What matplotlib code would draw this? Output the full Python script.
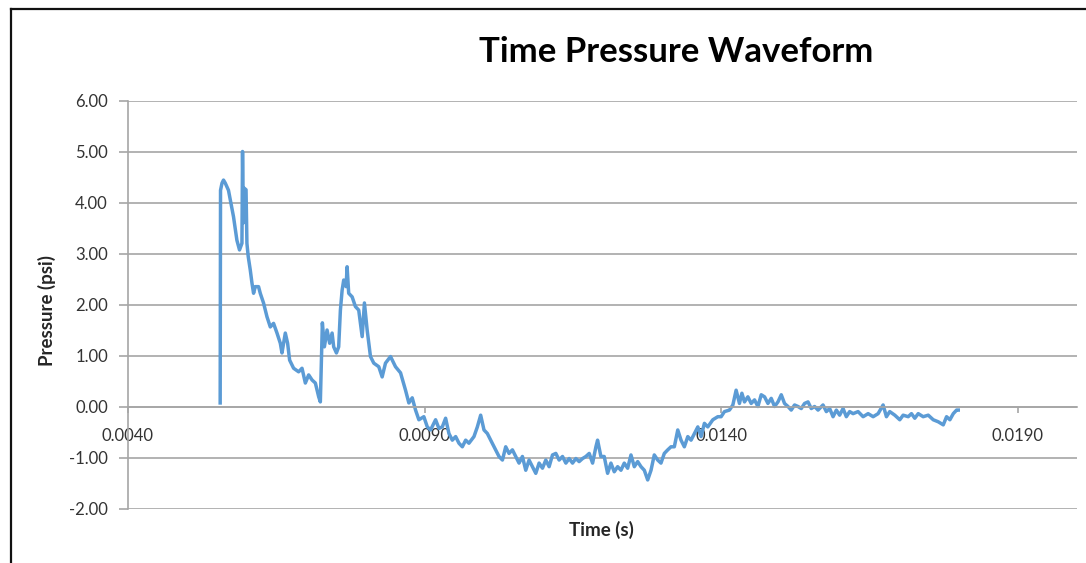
import matplotlib
matplotlib.use("Agg")
import matplotlib.pyplot as plt
from matplotlib.lines import Line2D

plt.rcParams['font.family'] = ['Lato', 'DejaVu Sans']

# ---- data ----
time_s = [
    0.005554, 0.005560, 0.005585, 0.005610, 0.005640, 0.005694, 0.005779, 0.005836,
    0.005880, 0.005921, 0.005931, 0.005945, 0.005960, 0.005990, 0.006005, 0.006027,
    0.006061, 0.006090, 0.006117, 0.006145, 0.006201, 0.006230, 0.006285, 0.006343,
    0.006399, 0.006454, 0.006512, 0.006568, 0.006596, 0.006652, 0.006691, 0.006725,
    0.006792, 0.006877, 0.006934, 0.006990, 0.007046, 0.007103, 0.007159, 0.007215,
    0.007243, 0.007277, 0.007311, 0.007356, 0.007400, 0.007441, 0.007468, 0.007514,
    0.007552, 0.007581, 0.007610, 0.007637, 0.007677, 0.007694, 0.007721, 0.007779,
    0.007834, 0.007890, 0.007948, 0.007986, 0.008032, 0.008088, 0.008144, 0.008228,
    0.008285, 0.008341, 0.008426, 0.008510, 0.008595, 0.008679, 0.008735, 0.008792,
    0.008848, 0.008904, 0.008988, 0.009046, 0.009101, 0.009186, 0.009242, 0.009299,
    0.009355, 0.009411, 0.009468, 0.009524, 0.009580, 0.009637, 0.009693, 0.009748,
    0.009833, 0.009890, 0.009946, 0.010002, 0.010059, 0.010115, 0.010199, 0.010255,
    0.010313, 0.010368, 0.010424, 0.010481, 0.010537, 0.010593, 0.010650, 0.010706,
    0.010762, 0.010819, 0.010875, 0.010931, 0.010988, 0.011044, 0.011100, 0.011157,
    0.011213, 0.011269, 0.011326, 0.011382, 0.011438, 0.011495, 0.011551, 0.011606,
    0.011664, 0.011720, 0.011776, 0.011833, 0.011889, 0.011917, 0.011973, 0.012029,
    0.012086, 0.012142, 0.012198, 0.012255, 0.012311, 0.012367, 0.012424, 0.012480,
    0.012536, 0.012593, 0.012649, 0.012705, 0.012762, 0.012818, 0.012873, 0.012931,
    0.012986, 0.013042, 0.013100, 0.013155, 0.013211, 0.013269, 0.013324, 0.013380,
    0.013438, 0.013493, 0.013549, 0.013607, 0.013662, 0.013718, 0.013775, 0.013860,
    0.013944, 0.014000, 0.014056, 0.014140, 0.014198, 0.014253, 0.014309, 0.014350,
    0.014394, 0.014451, 0.014507, 0.014563, 0.014620, 0.014676, 0.014732, 0.014789,
    0.014845, 0.014901, 0.014958, 0.015014, 0.015069, 0.015127, 0.015182, 0.015238,
    0.015296, 0.015351, 0.015407, 0.015465, 0.015520, 0.015576, 0.015634, 0.015718,
    0.015774, 0.015830, 0.015887, 0.015943, 0.015998, 0.016056, 0.016111, 0.016167,
    0.016225, 0.016309, 0.016394, 0.016478, 0.016563, 0.016647, 0.016731, 0.016787,
    0.016843, 0.016928, 0.017012, 0.017069, 0.017154, 0.017209, 0.017265, 0.017323,
    0.017407, 0.017492, 0.017576, 0.017661, 0.017745, 0.017801, 0.017857, 0.017914,
    0.017970, 0.017998,
]
pressure_psi = [
    0.07, 4.24, 4.38, 4.44, 4.38, 4.24, 3.72, 3.26,
    3.07, 3.20, 5.00, 3.60, 4.28, 4.25, 3.20, 2.94,
    2.68, 2.42, 2.22, 2.35, 2.35, 2.22, 2.03, 1.76,
    1.56, 1.63, 1.44, 1.24, 1.05, 1.44, 1.24, 0.91,
    0.75, 0.68, 0.75, 0.46, 0.62, 0.52, 0.46, 0.19,
    0.09, 1.64, 1.17, 1.50, 1.24, 1.44, 1.17, 1.05,
    1.17, 1.89, 2.28, 2.48, 2.35, 2.74, 2.22, 2.15,
    1.96, 1.89, 1.37, 2.03, 1.50, 0.98, 0.85, 0.78,
    0.58, 0.85, 0.98, 0.78, 0.66, 0.32, 0.07, 0.17,
    -0.07, -0.26, -0.20, -0.40, -0.46, -0.26, -0.43, -0.40,
    -0.23, -0.53, -0.66, -0.59, -0.72, -0.79, -0.66, -0.72,
    -0.59, -0.40, -0.17, -0.46, -0.53, -0.66, -0.85, -0.98,
    -1.05, -0.79, -0.92, -0.85, -0.98, -1.11, -0.98, -1.25,
    -1.05, -1.18, -1.31, -1.11, -1.21, -1.05, -1.18, -0.95,
    -0.92, -1.05, -0.98, -1.11, -1.02, -1.11, -1.02, -1.08,
    -1.02, -0.98, -0.92, -1.11, -0.79, -0.66, -0.98, -0.98,
    -1.31, -1.11, -1.28, -1.18, -1.25, -1.11, -1.21, -0.95,
    -1.18, -1.08, -1.18, -1.25, -1.44, -1.25, -0.95, -1.05,
    -1.11, -0.92, -0.85, -0.79, -0.79, -0.46, -0.66, -0.79,
    -0.59, -0.66, -0.53, -0.40, -0.59, -0.33, -0.40, -0.26,
    -0.20, -0.20, -0.10, -0.07, 0.03, 0.32, 0.06, 0.26,
    0.09, 0.19, 0.06, 0.13, 0.00, 0.23, 0.19, 0.06,
    0.16, 0.00, 0.09, 0.23, 0.06, 0.00, -0.07, 0.03,
    0.00, -0.04, 0.06, 0.09, -0.04, 0.00, -0.07, 0.03,
    -0.10, -0.04, -0.20, -0.07, -0.17, -0.04, -0.20, -0.10,
    -0.14, -0.10, -0.20, -0.14, -0.20, -0.14, 0.03, -0.20,
    -0.10, -0.17, -0.26, -0.17, -0.20, -0.14, -0.23, -0.14,
    -0.20, -0.17, -0.26, -0.30, -0.36, -0.20, -0.26, -0.14,
    -0.07, -0.07,
]
x_ticks = [0.0040, 0.0090, 0.0140, 0.0190]
x_tick_labels = ["0.0040", "0.0090", "0.0140", "0.0190"]
y_ticks = [-2, -1, 0, 1, 2, 3, 4, 5, 6]
y_tick_labels = ["-2.00", "-1.00", "0.00", "1.00", "2.00", "3.00", "4.00", "5.00", "6.00"]
title = "Time Pressure Waveform"
x_label = "Time (s)"
y_label = "Pressure (psi)"

# ---- figure ----
W, H = 1086, 563
fig = plt.figure(figsize=(W / 100, H / 100), dpi=100)
fig.patch.set_facecolor("white")

ax = fig.add_axes([128 / W, 1 - 508.5 / H, (1077 - 128) / W, (508.5 - 100.5) / H])
ax.set_xlim(0.004, 0.020)
ax.set_ylim(-2, 6)

grid_col = "#a6a6a6"
ax.set_yticks(y_ticks)
ax.set_yticklabels(y_tick_labels)
ax.set_xticks(x_ticks)
ax.set_xticklabels(x_tick_labels)
ax.yaxis.grid(True, color=grid_col, linewidth=1.2)
ax.set_axisbelow(True)

for s in ["top", "right"]:
    ax.spines[s].set_visible(False)
ax.spines["left"].set_color(grid_col)
ax.spines["left"].set_linewidth(1.2)
ax.spines["bottom"].set_position(("data", 0))
ax.spines["bottom"].set_color(grid_col)
ax.spines["bottom"].set_linewidth(1.2)

ax.tick_params(axis="y", direction="out", length=6.5, width=1.2, color=grid_col,
               pad=8.0, labelsize=12, labelcolor="#333333")
ax.tick_params(axis="x", direction="out", length=4.5, width=1.2, color=grid_col,
               pad=11, labelsize=12, labelcolor="#333333")

ax.plot(time_s, pressure_psi, color="#5B9BD5", linewidth=2.5, solid_joinstyle="round")

fig.text(676.5 / W, 1 - 62 / H, title, ha="center", va="baseline",
         fontsize=25, fontweight="bold", color="black")
fig.text(601.5 / W, 1 - 536 / H, x_label, ha="center", va="baseline",
         fontsize=13.5, fontweight="bold", color="#262626")
fig.text(47 / W, 1 - 311 / H, y_label, ha="center", va="center", rotation=90,
         fontsize=13.5, fontweight="bold", color="#262626")

# outer frame of the screenshot
fig.add_artist(Line2D([11 / W, 11 / W], [0, 1 - 9 / H], color="#111111", linewidth=1.6,
                      transform=fig.transFigure))
fig.add_artist(Line2D([11 / W, 1], [1 - 9 / H, 1 - 9 / H], color="#111111", linewidth=1.6,
                      transform=fig.transFigure))

fig.savefig("out.png", dpi=100)
